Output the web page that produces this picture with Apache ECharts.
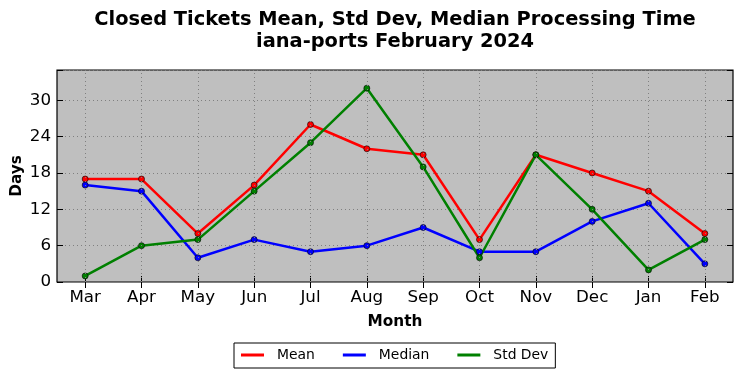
<!DOCTYPE html>
<html><head><meta charset="utf-8">
<script src="https://cdn.jsdelivr.net/npm/echarts@6/dist/echarts.min.js"></script>
<style>html,body{margin:0;padding:0;background:#fff}#c{width:742px;height:378px}</style>
</head><body><div id="c"></div>
<script>
const months = ['Mar','Apr','May','Jun','Jul','Aug','Sep','Oct','Nov','Dec','Jan','Feb'];
const meanVals = [17,17,8,16,26,22,21,7,21,18,15,8];
const medianVals = [16,15,4,7,5,6,9,5,5,10,13,3];
const stdVals = [1,6,7,15,23,32,19,4,21,12,2,7];
const yTicks = [0,6,12,18,24,30];

const font = 'DejaVu Sans';
const chart = echarts.init(document.getElementById('c'), null, {renderer:'canvas'});
function ser(name, data, color, extra){
  return Object.assign({name, type:'line', data, xAxisIndex:0, yAxisIndex:0,
    symbol:'circle', symbolSize:6, showSymbol:true,
    lineStyle:{color, width:2.5},
    itemStyle:{color, borderColor:'#000', borderWidth:0.6},
    emphasis:{disabled:true}, animation:false, z:3}, extra||{});
}
const vGrid = {silent:true, symbol:'none', animation:false, label:{show:false},
  lineStyle:{color:'#808080', type:[1,3], width:1}, emphasis:{disabled:true},
  data: months.map(m=>({xAxis:m}))};
chart.setOption({
  animation:false,
  backgroundColor:'#ffffff',
  title:{text:'Closed Tickets Mean, Std Dev, Median Processing Time\niana-ports February 2024',
    left:390, top:4, textAlign:'center',
    textStyle:{fontFamily:font, fontSize:19.4, fontWeight:'bold', color:'#000', lineHeight:22}},
  legend:{data:[
      {name:'Mean', itemStyle:{color:'#ff0000', borderWidth:0}},
      {name:'Median', itemStyle:{color:'#0000ff', borderWidth:0}},
      {name:'Std Dev', itemStyle:{color:'#008000', borderWidth:0}}],
    left:234, top:343, orient:'horizontal',
    icon:'rect', itemWidth:23, itemHeight:3, itemGap:28,
    borderColor:'#000', borderWidth:1, padding:[5,7,6,7],
    textStyle:{fontFamily:font, fontSize:13.9, color:'#000', padding:[0,0,0,8]}},
  grid:{left:57, right:9, top:70, bottom:96, outerBoundsMode:'none', containLabel:false,
    show:true, backgroundColor:'#bfbfbf', borderColor:'#000', borderWidth:1.2},
  xAxis:[{type:'category', data:months, boundaryGap:true, position:'bottom',
    name:'Month', nameLocation:'middle', nameGap:33, nameMoveOverlap:false,
    nameTextStyle:{fontFamily:font, fontSize:15.3, fontWeight:'bold', color:'#000'},
    axisLine:{show:false},
    axisTick:{show:true, inside:true, length:6, alignWithLabel:true, lineStyle:{color:'#000'}},
    axisLabel:{fontFamily:font, fontSize:16.7, color:'#000', margin:7},
    splitLine:{show:false}},
   {type:'category', data:months, boundaryGap:true, position:'top',
    axisLine:{show:false}, axisLabel:{show:false},
    axisTick:{show:true, inside:true, length:6, alignWithLabel:true, lineStyle:{color:'#000'}},
    splitLine:{show:false}}],
  yAxis:[{type:'value', min:0, max:35, interval:6, position:'left',
    name:'Days', nameLocation:'middle', nameGap:32, nameMoveOverlap:false,
    nameTextStyle:{fontFamily:font, fontSize:15.3, fontWeight:'bold', color:'#000'},
    axisLine:{show:false},
    axisTick:{show:true, inside:true, length:6, lineStyle:{color:'#000'}},
    axisLabel:{fontFamily:font, fontSize:16.7, color:'#000', margin:6,
      formatter:v=>yTicks.includes(v)?String(v):''},
    splitLine:{show:true, lineStyle:{color:'#808080', type:[1,3], width:1}}},
   {type:'value', min:0, max:35, interval:6, position:'right',
    axisLine:{show:false}, axisLabel:{show:false},
    axisTick:{show:true, inside:true, length:6, lineStyle:{color:'#000'}},
    splitLine:{show:false}}],
  series:[ser('Mean', meanVals, '#ff0000', {markLine:vGrid}), ser('Median', medianVals, '#0000ff'), ser('Std Dev', stdVals, '#008000')]
});
</script></body></html>
